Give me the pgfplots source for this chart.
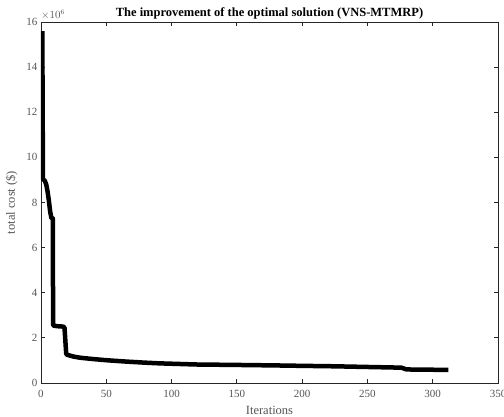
\documentclass[border=0pt]{standalone}
\usepackage{fontspec}
\setmainfont{Liberation Serif}
\usepackage{pgfplots}
\pgfplotsset{compat=1.18}

\definecolor{axgray}{HTML}{262626}
\definecolor{lblgray}{HTML}{555555}

\begin{document}
\begin{tikzpicture}
\begin{axis}[
  scale only axis, width=457pt, height=361pt,
  xmin=0, xmax=350, ymin=0, ymax=16,
  xtick={0,50,...,350}, ytick={0,2,...,16},
  tick align=inside, major tick length=4pt,
  axis line style={axgray, line width=0.9pt},
  tick style={axgray, line width=0.9pt},
  ticklabel style={font=\fontsize{11}{12}\selectfont, text=lblgray},
  xticklabel style={yshift=-4pt},
  /pgf/number format/assume math mode=true,
  xlabel={Iterations}, ylabel={total cost (\$)},
  label style={font=\fontsize{12.5}{14}\selectfont, text=lblgray},
  xlabel style={yshift=-1pt}, ylabel style={yshift=2pt},
  title={\textbf{The improvement of the optimal solution (VNS-MTMRP)}},
  title style={font=\fontsize{12.5}{14}\selectfont, yshift=-7pt},
]
\addplot[black, line width=4.5pt, line join=round] coordinates {
  (1,15.6) (1.5,9.05) (3,8.95) (4,8.8) (5,8.5) (6,8.1) (7,7.6) (8,7.3) (9,7.3)
  (9.3,2.55) (12,2.52) (17,2.5) (18,2.45) (19.3,1.3) (20,1.25)
  (25,1.17) (30,1.12) (40,1.06) (50,1.01) (65,0.95) (80,0.9) (91,0.87)
  (119,0.82) (150,0.8) (178,0.78) (200,0.76) (225,0.74) (250,0.71)
  (276,0.68) (280,0.6) (312,0.58)
};
\end{axis}
\node[anchor=south west, inner sep=0pt, text=lblgray, font=\fontsize{10.5}{12}\selectfont]
  at ([yshift=2pt]current axis.north west) {$\times10^{6}$};
\pgfresetboundingbox
\path ([shift={(-41pt,-34pt)}]current axis.south west) rectangle ([shift={(6pt,22pt)}]current axis.north east);
\end{tikzpicture}
\end{document}
